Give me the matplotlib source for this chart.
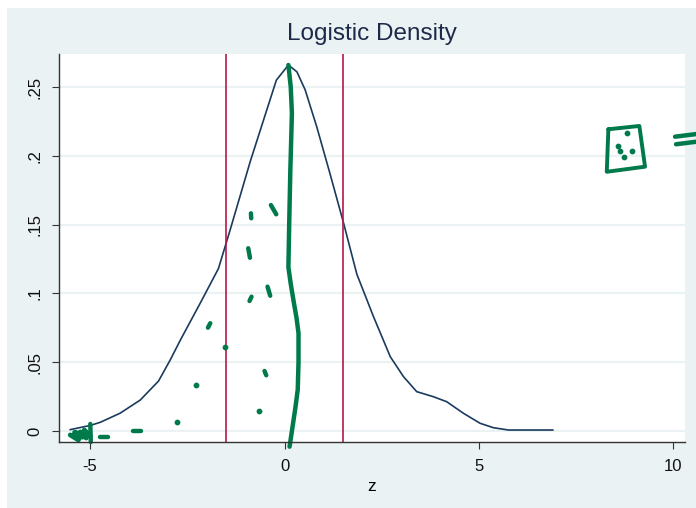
import matplotlib
matplotlib.use('Agg')
import matplotlib.pyplot as plt
from matplotlib.patches import Rectangle

# density curve
dens_x = [-5.51, -5.0, -4.74, -4.23, -3.71, -3.24, -2.94, -2.68, -2.17, -1.70,
          -1.40, -0.88, -0.21, 0.10, 0.32, 0.53, 0.83, 1.17, 1.52, 1.86,
          2.29, 2.72, 3.06, 3.40, 3.83, 4.17, 4.60, 5.03, 5.37, 5.76, 6.90]
dens_y = [0.001, 0.004, 0.0063, 0.0129, 0.0225, 0.0363, 0.0516, 0.066, 0.0928, 0.118,
          0.146, 0.196, 0.255, 0.266, 0.261, 0.248, 0.221, 0.187, 0.151, 0.114,
          0.083, 0.054, 0.0395, 0.0286, 0.0249, 0.0213, 0.0129, 0.0056, 0.0024, 0.0007, 0.0007]
cutoffs = [-1.5, 1.5]

x_ticks = [-5, 0, 5, 10]
y_ticks = [0, 0.05, 0.1, 0.15, 0.2, 0.25]
y_labels = ['0', '.05', '.1', '.15', '.2', '.25']

# green hand-drawn ink on top of the chart
ink_line_x = [0.10, 0.16, 0.19, 0.17, 0.15, 0.12, 0.10, 0.16, 0.23, 0.31, 0.36, 0.36, 0.34, 0.28, 0.22, 0.13]
ink_line_y = [0.266, 0.250, 0.231, 0.210, 0.190, 0.150, 0.119, 0.107, 0.095, 0.082, 0.071, 0.050, 0.030, 0.017, 0.0056, -0.0114]
ink_dashes = [
    ([-0.864, -0.856], [0.1582, 0.1546]),
    ([-0.350, -0.213], [0.1642, 0.1575]),
    ([-0.933, -0.889], [0.1328, 0.1259]),
    ([-0.437, -0.368], [0.1049, 0.0983]),
    ([-0.848, -0.900], [0.0976, 0.0945]),
    ([-1.910, -1.969], [0.0783, 0.0751]),
    ([-0.514, -0.470], [0.0436, 0.0405]),
    ([-3.897, -3.684], [0.0, 0.0]),
    ([-4.748, -4.550], [-0.0046, -0.0046]),
    ([-4.995, -4.982], [0.0051, -0.008]),
    ([10.044, 10.584], [0.2139, 0.2158]),
    ([10.069, 10.584], [0.2084, 0.2102]),
]
ink_dots_x = [-1.542, -2.270, -0.668, -2.766, 8.802, 8.586, 8.630, 8.931, 8.740]
ink_dots_y = [0.0613, 0.0336, 0.0145, 0.0068, 0.2168, 0.2071, 0.2037, 0.2037, 0.1989]
scribble_x = [-5.51, -5.30, -5.25, -5.10, -5.15, -5.00, -5.40, -5.20, -5.05]
scribble_y = [-0.0029, -0.0065, -0.0007, -0.0051, 0.0007, -0.0036, -0.0010, -0.0045, -0.0020]
box_x = [8.329, 9.126, 9.272, 8.288, 8.329]
box_y = [0.2193, 0.2217, 0.1921, 0.1884, 0.2193]

navy = '#1A3A5E'
red = '#B5184B'
green = '#007A4A'
bg = '#EAF2F3'

plt.rcParams['font.family'] = ['Liberation Sans', 'DejaVu Sans']
plt.rcParams['axes.unicode_minus'] = False

fig = plt.figure(figsize=(6.96, 5.08), dpi=100, facecolor='white')
fig.patches.append(Rectangle((7 / 696, 0), 1, 500 / 508, transform=fig.transFigure,
                             facecolor=bg, edgecolor='none', zorder=-10))
ax = fig.add_axes([59 / 696, 66 / 508, 626 / 696, 388 / 508])
ax.set_facecolor('white')

ax.set_xlim(-5.8, 10.3)
ax.set_ylim(-0.008, 0.274)
ax.set_yticks(y_ticks)
ax.set_yticklabels(y_labels, rotation=90, va='center')
ax.set_xticks(x_ticks)
ax.grid(axis='y', color=bg, linewidth=1.6)
ax.set_axisbelow(True)
for s in ['top', 'right']:
    ax.spines[s].set_visible(False)
for s in ['left', 'bottom']:
    ax.spines[s].set_color('#333333')
    ax.spines[s].set_linewidth(1.0)
ax.tick_params(axis='both', direction='out', length=5, width=0.8, color='#333333',
               labelsize=12, labelcolor='#111111', pad=7)

ax.plot(dens_x, dens_y, color=navy, linewidth=1.2)
for c in cutoffs:
    ax.axvline(c, color=red, linewidth=1.2)

ax.set_title('Logistic Density', fontsize=17.5, color='#1E2A4A', pad=10)
ax.set_xlabel('z', fontsize=12.5, labelpad=4)

# ink
kw = dict(color=green, solid_capstyle='round', solid_joinstyle='round', clip_on=False)
ax.plot(ink_line_x, ink_line_y, linewidth=3.2, **kw)
for xs, ys in ink_dashes:
    ax.plot(xs, ys, linewidth=3.2, **kw)
ax.plot(scribble_x, scribble_y, linewidth=3.5, **kw)
ax.plot(box_x, box_y, linewidth=2.8, **kw)
ax.scatter(ink_dots_x, ink_dots_y, s=10, color=green, clip_on=False, zorder=3)

fig.savefig('out.png', dpi=100, facecolor=fig.get_facecolor())
